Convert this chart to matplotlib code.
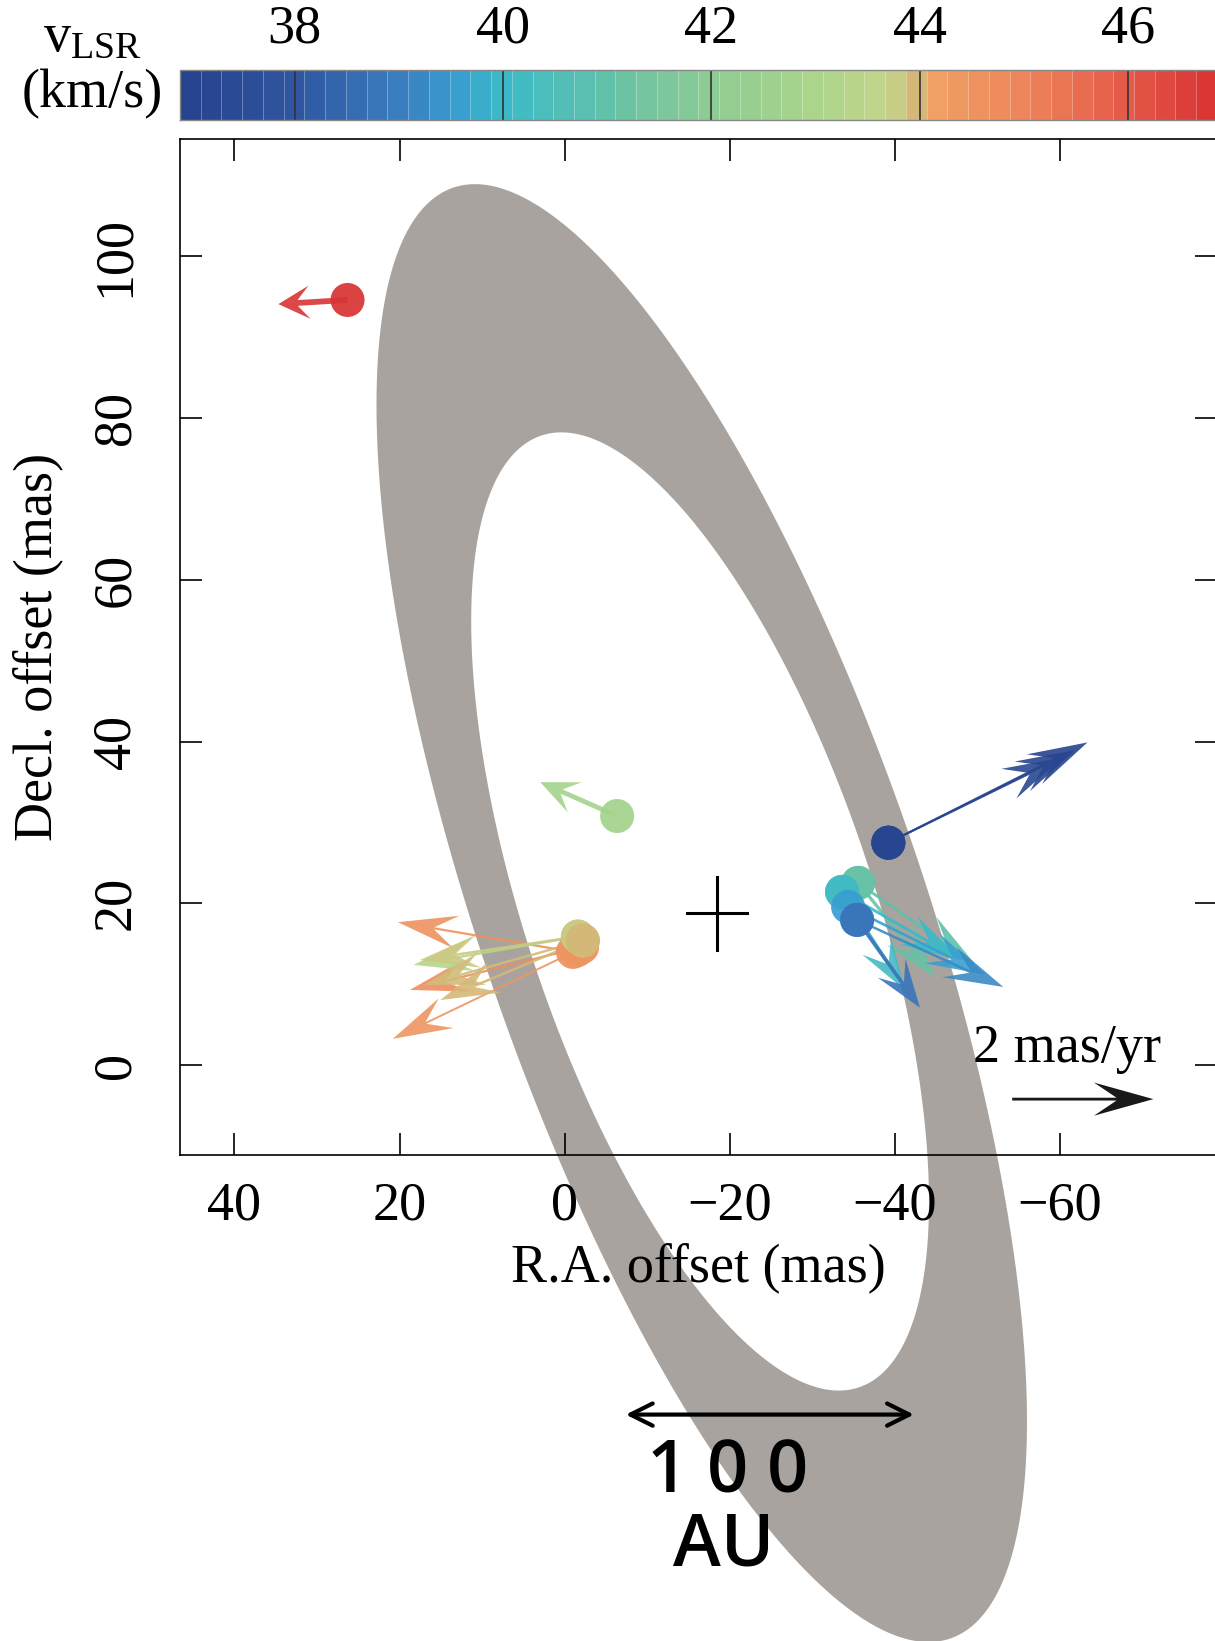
import numpy as np
import matplotlib
matplotlib.use('Agg')
import matplotlib.pyplot as plt
from matplotlib.colors import LinearSegmentedColormap, Normalize
from matplotlib.cm import ScalarMappable
from matplotlib.path import Path
from matplotlib.patches import PathPatch

plt.rcParams['font.family'] = ['Liberation Serif', 'DejaVu Serif']
plt.rcParams['mathtext.fontset'] = 'custom'
plt.rcParams['mathtext.rm'] = 'Liberation Serif'
plt.rcParams['font.size'] = 39

# maser spots: offsets (mas), proper motions (mas/yr), LSR velocities (km/s)
spot_ra = [26.3, -6.35, -39.2, -39.2, -39.2,
           -1.0, -2.1, -1.5, -1.6, -1.6, -2.2, -2.2,
           -35.54, -35.54, -33.60, -33.60, -34.33, -35.42, -35.42]
spot_dec = [94.6, 30.8, 27.5, 27.5, 27.5,
            14.0, 14.6, 14.2, 15.9, 15.9, 15.4, 15.4,
            22.53, 22.53, 21.42, 21.42, 19.57, 17.96, 17.96]
pm_ra = [0.98, 1.09, -2.82, -2.65, -2.46,
         2.48, 2.44, 2.61, 2.33, 2.24, 2.24, 2.02,
         -1.66, -1.09, -1.67, -0.89, -1.94, -2.07, -0.89]
pm_dec = [-0.06, 0.49, 1.45, 1.34, 1.23,
          0.43, -0.62, -1.28, -0.41, -0.34, -0.64, -0.86,
          -1.18, -1.37, -0.98, -1.42, -0.98, -0.97, -1.27]
vlsr = [46.8, 42.8, 37.0, 37.1, 37.2,
        44.6, 44.7, 44.5, 43.3, 43.8, 43.9, 43.95,
        40.9, 41.1, 40.0, 40.2, 39.6, 39.2, 38.8]

# ring model (outer / inner edge) and star position
outer_center, outer_pa, outer_ab = (-16.6, 18.8), 18.5, (94.6, 26.9)
inner_center, inner_pa, inner_ab = (-16.4, 19.0), 18.0, (61.9, 21.1)
star = (-18.45, 18.75)

pm_scale = 8.55         # mas of arrow per mas/yr
ref_pm = 2.0

vmin, vmax = 36.9, 46.85
cnodes = [(36.9, '#27428c'), (38.0, '#2f55a0'), (39.0, '#3a7fc0'), (39.6, '#389fd0'),
          (40.0, '#3cbac8'), (41.0, '#63c1a8'), (42.0, '#8ecb93'), (43.0, '#aad58b'),
          (43.7, '#c4d58b'), (43.98, '#d6b676'), (44.02, '#f0a466'), (45.0, '#ed855a'),
          (46.0, '#e45a48'), (46.85, '#d83232')]
cmap = LinearSegmentedColormap.from_list(
    'vlsr', [((v - vmin) / (vmax - vmin), c) for v, c in cnodes])
norm = Normalize(vmin, vmax)

fig = plt.figure(figsize=(12.15, 16.41), dpi=100)
ax = fig.add_axes([0.1481, 0.2962, 0.8535, 0.6191])
cax = fig.add_axes([0.1481, 0.9269, 0.8535, 0.0305])

ax.set_xlim(46.6, -79.0)
ax.set_ylim(-11.1, 114.5)

# gray ring
t = np.linspace(0, 2 * np.pi, 500)
def ring(center, pa_deg, ab):
    pa = np.radians(pa_deg)
    u, v = ab[0] * np.cos(t), ab[1] * np.sin(t)
    ra = center[0] + u * np.sin(pa) + v * np.cos(pa)
    dec = center[1] + u * np.cos(pa) - v * np.sin(pa)
    return np.column_stack([ra, dec])
outer = ring(outer_center, outer_pa, outer_ab)
inner = ring(inner_center, inner_pa, inner_ab)[::-1]
verts = np.concatenate([outer, inner])
codes = np.full(len(verts), Path.LINETO)
codes[0] = Path.MOVETO
codes[len(outer)] = Path.MOVETO
ax.add_patch(PathPatch(Path(verts, codes), facecolor='#a8a39e', edgecolor='none',
                       zorder=1, clip_on=False))

# proper motion arrows
def pm_arrow(x, y, mx, my, color):
    dx, dy = mx * pm_scale, my * pm_scale
    L = np.hypot(dx, dy)
    ax.arrow(x, y, dx, dy, width=np.clip(6.0 / L, 0.22, 0.8),
             head_width=4.1, head_length=min(0.45 * L, 7.2), overhang=0.38,
             length_includes_head=True, color=color, lw=0, alpha=0.9, zorder=3)

for x, y, mx, my, v in zip(spot_ra, spot_dec, pm_ra, pm_dec, vlsr):
    pm_arrow(x, y, mx, my, cmap(norm(v)))
ax.scatter(spot_ra, spot_dec, c=vlsr, cmap=cmap, norm=norm, s=600,
           edgecolors='none', alpha=0.93, zorder=4)

# star
ax.plot([star[0] + 3.6, star[0] - 3.6], [star[1], star[1]], color='k', lw=2.2, zorder=5)
ax.plot([star[0], star[0]], [star[1] - 4.5, star[1] + 4.5], color='k', lw=2.2, zorder=5)

# reference arrow
pm_arrow(-54.2, -4.2, -ref_pm, 0.0, 'k')
ax.text(-49.5, 0.4, '2 mas/yr', ha='left', va='baseline', zorder=5)

# 100 AU scale bar
ax.annotate('', xy=(-42.3, -43.2), xytext=(-7.4, -43.2), annotation_clip=False,
            arrowprops=dict(arrowstyle='<->,head_length=0.8,head_width=0.4',
                            lw=3, color='k', mutation_scale=20, shrinkA=0, shrinkB=0),
            zorder=6)
ax.text(-19.7, -50.5, '1 0 0', ha='center', va='center', fontsize=52,
        family='Open Sans', weight='semibold', clip_on=False, zorder=6)
ax.text(-19.3, -59.5, 'AU', ha='center', va='center', fontsize=52,
        family='Open Sans', weight='semibold', clip_on=False, zorder=6)

ax.set_xticks([40, 20, 0, -20, -40, -60])
ax.set_yticks([0, 20, 40, 60, 80, 100])
ax.tick_params(direction='in', length=16, width=1.2, top=True, right=True)
ax.tick_params(axis='x', pad=19)
ax.tick_params(axis='y', pad=28, labelrotation=90)
plt.setp(ax.get_yticklabels(), va='center')
for s in ax.spines.values():
    s.set_linewidth(1.2)
ax.set_xlabel('R.A. offset (mas)')
ax.set_ylabel('Decl. offset (mas)')
ax.xaxis.set_label_coords(0.5, -0.0866)
ax.yaxis.set_label_coords(-0.113, 0.5)

# velocity colorbar
sm = ScalarMappable(norm=norm, cmap=cmap)
cb = fig.colorbar(sm, cax=cax, orientation='horizontal',
                  boundaries=np.linspace(vmin, vmax, 51), drawedges=True,
                  ticks=[38, 40, 42, 44, 46])
cb.dividers.set_color('white')
cb.dividers.set_linewidth(0.7)
cb.dividers.set_alpha(0.3)
cb.outline.set_edgecolor('#888888')
cb.outline.set_linewidth(1.0)
cax.xaxis.set_ticks_position('top')
cax.tick_params(direction='in', length=36, width=1.2, color='#333333', pad=11)
fig.text(92 / 1215, 1 - 37 / 1641, r'$\mathregular{v_{LSR}}$', ha='center', va='center')
fig.text(92 / 1215, 1 - 94 / 1641, '(km/s)', ha='center', va='center')

fig.savefig('out.png', dpi=100)
